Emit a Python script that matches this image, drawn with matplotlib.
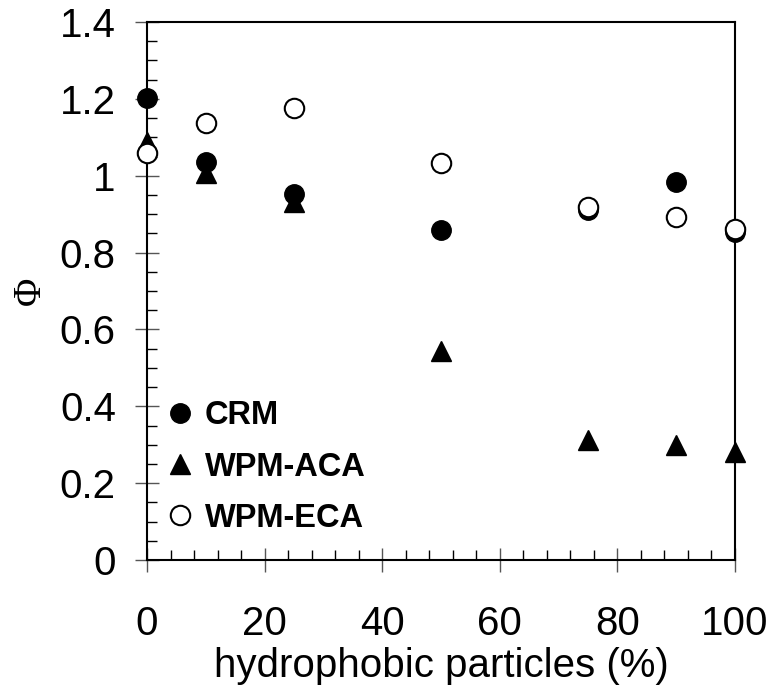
import numpy as np
import matplotlib.pyplot as plt
from matplotlib.ticker import MultipleLocator

plt.rcParams['font.family'] = ['Liberation Sans', 'DejaVu Sans']

# hydrophobic particle content (%)
x = [0, 10, 25, 50, 75, 90, 100]

# phi values per method
phi_crm = [1.203, 1.036, 0.952, 0.859, 0.911, 0.983, 0.854]
phi_aca = [1.088, 1.007, 0.932, 0.545, 0.313, 0.298, 0.281]
phi_eca = [1.060, 1.138, 1.175, 1.034, 0.918, 0.893, 0.861]

fig = plt.figure(figsize=(7.72, 6.98), dpi=100)
ax = fig.add_axes([147/772, 1 - 560/698, 588/772, 538/698])

ax.plot(x, phi_crm, 'o', color='black', markersize=14, clip_on=False,
        label='CRM', zorder=3)
ax.plot(x, phi_aca, '^', color='black', markersize=15, clip_on=False,
        label='WPM-ACA', zorder=3)
ax.plot(x, phi_eca, 'o', markerfacecolor='white', markeredgecolor='black',
        markeredgewidth=1.5, markersize=14, clip_on=False,
        label='WPM-ECA', zorder=4)

ax.set_xlim(0, 100)
ax.set_ylim(0, 1.4)
ax.xaxis.set_major_locator(MultipleLocator(20))
ax.xaxis.set_minor_locator(MultipleLocator(4))
ax.yaxis.set_minor_locator(MultipleLocator(0.05))
ax.set_yticks(np.arange(0, 1.41, 0.2))
ax.set_yticklabels(['0', '0.2', '0.4', '0.6', '0.8', '1', '1.2', '1.4'])

ax.tick_params(which='major', direction='inout', length=17, width=1,
               labelsize=29, color='#555555')
ax.tick_params(axis='y', which='major', pad=14)
ax.tick_params(axis='x', which='major', pad=24)
ax.tick_params(which='minor', direction='in', length=7, width=1)

for s in ax.spines.values():
    s.set_linewidth(1.5)

ax.set_xlabel('hydrophobic particles (%)', fontsize=29, labelpad=3)
ax.set_ylabel('Φ', fontsize=28, family='Liberation Serif', labelpad=8)

leg = ax.legend(loc='lower left', bbox_to_anchor=(-0.016, -0.006),
                frameon=False, numpoints=1, handlelength=0.8,
                handletextpad=0.35, labelspacing=0.62,
                prop={'weight': 'bold', 'size': 23.5})

fig.savefig('out.png', dpi=100)
